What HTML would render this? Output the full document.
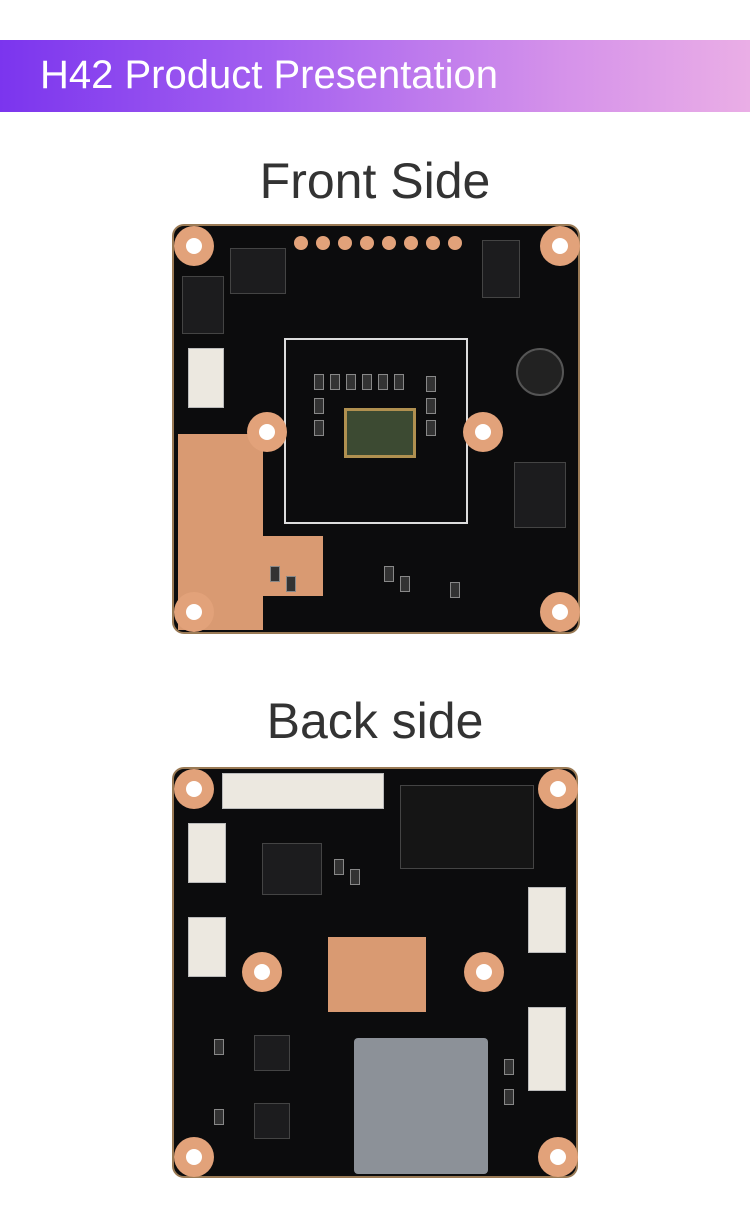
<!DOCTYPE html>
<html><head><meta charset="utf-8"><style>
body{margin:0;width:750px;height:1215px;background:#fff;position:relative;overflow:hidden;font-family:"Liberation Sans",sans-serif}
.hdr{position:absolute;left:0;top:40px;width:750px;height:72px;background:linear-gradient(90deg,#7b35ee 0%,#a35ff0 35%,#d592ea 75%,#eaaee6 100%)}
.hdr span{position:absolute;left:40px;top:13px;color:#fff;font-size:40px}
.t{position:absolute;left:0;width:750px;text-align:center;color:#333;font-size:50px}
.b{position:absolute;background:#0c0c0d;border-radius:12px;border:2px solid #9a7a55;box-sizing:border-box}
.h{position:absolute;width:40px;height:40px;border-radius:50%;background:#e2a27a}
.h::after{content:"";position:absolute;left:12px;top:12px;width:16px;height:16px;border-radius:50%;background:#fff}
.p{position:absolute;width:14px;height:14px;border-radius:50%;background:#e2a27a}
.c{position:absolute;background:#1c1c1e;border:1px solid #444}
.cu{position:absolute;background:#d99a72}
.w{position:absolute;background:#ece8e0;border:1px solid #bbb}
.s{position:absolute;width:8px;height:14px;background:#333;border:1px solid #888}
</style></head><body>
<div class="hdr"><span>H42 Product Presentation</span></div>
<div class="t" style="top:152px">Front Side</div>
<div class="b" style="left:172px;top:224px;width:408px;height:410px">
 <div class="cu" style="left:4px;top:208px;width:85px;height:196px"></div>
 <div class="cu" style="left:89px;top:310px;width:60px;height:60px"></div>
 <div style="position:absolute;left:110px;top:112px;width:184px;height:186px;border:2px solid #ddd;box-sizing:border-box"></div>
 <div class="h" style="left:0;top:0"></div><div class="h" style="left:366px;top:0"></div>
 <div class="h" style="left:0;top:366px"></div><div class="h" style="left:366px;top:366px"></div>
 <div class="h" style="left:73px;top:186px"></div><div class="h" style="left:289px;top:186px"></div>
 <div class="p" style="left:120px;top:10px"></div><div class="p" style="left:142px;top:10px"></div><div class="p" style="left:164px;top:10px"></div><div class="p" style="left:186px;top:10px"></div><div class="p" style="left:208px;top:10px"></div><div class="p" style="left:230px;top:10px"></div><div class="p" style="left:252px;top:10px"></div><div class="p" style="left:274px;top:10px"></div>
 <div style="position:absolute;left:170px;top:182px;width:66px;height:44px;background:#3c4a32;border:3px solid #b09050"></div>
 <div class="c" style="left:56px;top:22px;width:54px;height:44px"></div>
 <div class="c" style="left:8px;top:50px;width:40px;height:56px"></div>
 <div class="c" style="left:308px;top:14px;width:36px;height:56px"></div>
 <div class="c" style="left:340px;top:236px;width:50px;height:64px"></div>
 <div style="position:absolute;left:342px;top:122px;width:44px;height:44px;border-radius:50%;background:#222;border:2px solid #555"></div>
 <div class="w" style="left:14px;top:122px;width:34px;height:58px"></div>
 <div class="s" style="left:140px;top:148px"></div><div class="s" style="left:156px;top:148px"></div><div class="s" style="left:172px;top:148px"></div><div class="s" style="left:188px;top:148px"></div><div class="s" style="left:204px;top:148px"></div><div class="s" style="left:220px;top:148px"></div>
 <div class="s" style="left:252px;top:150px"></div><div class="s" style="left:252px;top:172px"></div><div class="s" style="left:252px;top:194px"></div>
 <div class="s" style="left:140px;top:172px"></div><div class="s" style="left:140px;top:194px"></div>
 <div class="s" style="left:210px;top:340px"></div><div class="s" style="left:226px;top:350px"></div><div class="s" style="left:276px;top:356px"></div>
 <div class="s" style="left:96px;top:340px"></div><div class="s" style="left:112px;top:350px"></div>
</div>
<div class="t" style="top:692px">Back side</div>
<div class="b" style="left:172px;top:767px;width:406px;height:411px">
 <div class="h" style="left:0;top:0"></div><div class="h" style="left:364px;top:0"></div>
 <div class="h" style="left:0;top:368px"></div><div class="h" style="left:364px;top:368px"></div>
 <div class="h" style="left:68px;top:183px"></div><div class="h" style="left:290px;top:183px"></div>
 <div class="cu" style="left:154px;top:168px;width:98px;height:75px"></div>
 <div style="position:absolute;left:180px;top:269px;width:134px;height:136px;background:#8c9198;border-radius:4px"></div>
 <div class="w" style="left:48px;top:4px;width:160px;height:34px"></div>
 <div class="c" style="left:226px;top:16px;width:132px;height:82px;background:#151515"></div>
 <div class="w" style="left:14px;top:54px;width:36px;height:58px"></div>
 <div class="w" style="left:14px;top:148px;width:36px;height:58px"></div>
 <div class="w" style="left:354px;top:118px;width:36px;height:64px"></div>
 <div class="w" style="left:354px;top:238px;width:36px;height:82px"></div>
 <div class="c" style="left:80px;top:266px;width:34px;height:34px"></div>
 <div class="c" style="left:80px;top:334px;width:34px;height:34px"></div>
 <div class="c" style="left:88px;top:74px;width:58px;height:50px"></div>
 <div class="s" style="left:160px;top:90px"></div><div class="s" style="left:176px;top:100px"></div><div class="s" style="left:40px;top:270px"></div><div class="s" style="left:40px;top:340px"></div>
 <div class="s" style="left:330px;top:290px"></div><div class="s" style="left:330px;top:320px"></div>
</div>
</body></html>
